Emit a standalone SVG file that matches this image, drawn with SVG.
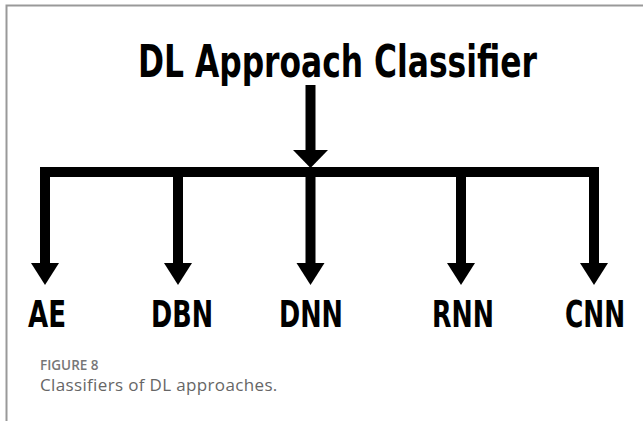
<svg xmlns="http://www.w3.org/2000/svg" width="643" height="421" viewBox="0 0 643 421">
<style>
.t{font-family:"DejaVu Sans",sans-serif;font-stretch:condensed;font-weight:bold;fill:#000;text-anchor:middle}
.ln{stroke:#000;stroke-width:10;fill:none}
.ah{fill:#000}
.cap{font-family:"Open Sans","Lato",sans-serif}
</style>
<rect width="643" height="421" fill="#fff"/>
<path d="M6.5,421 V5.5 H643" stroke="#999" stroke-width="2" fill="none"/>
<g id="title"><text class="t" x="337.5" y="77" font-size="44" textLength="399" lengthAdjust="spacingAndGlyphs">DL Approach Classifier</text></g>
<g id="connectors">
<path d="M310.5,85 V151" class="ln"/>
<path d="M293,150 H328 L310.5,168 Z" class="ah"/>
<path d="M45,265 V172 H594 V265" class="ln"/>
<path d="M178,172 V265" class="ln"/>
<path d="M310.5,172 V265" class="ln"/>
<path d="M461,172 V265" class="ln"/>
<path d="M31,263 H59 L45,285 Z" class="ah"/>
<path d="M164,263 H192 L178,285 Z" class="ah"/>
<path d="M296.5,263 H324.5 L310.5,285 Z" class="ah"/>
<path d="M447,263 H475 L461,285 Z" class="ah"/>
<path d="M580,263 H608 L594,285 Z" class="ah"/>
</g>
<g id="n-ae"><text class="t" x="47" y="327" font-size="37" textLength="38" lengthAdjust="spacingAndGlyphs">AE</text></g>
<g id="n-dbn"><text class="t" x="182" y="327" font-size="37" textLength="62" lengthAdjust="spacingAndGlyphs">DBN</text></g>
<g id="n-dnn"><text class="t" x="311" y="327" font-size="37" textLength="64" lengthAdjust="spacingAndGlyphs">DNN</text></g>
<g id="n-rnn"><text class="t" x="463" y="327" font-size="37" textLength="62" lengthAdjust="spacingAndGlyphs">RNN</text></g>
<g id="n-cnn"><text class="t" x="595" y="327" font-size="37" textLength="60" lengthAdjust="spacingAndGlyphs">CNN</text></g>
<g id="caption">
<text class="cap" x="40" y="370" font-size="13.5" font-weight="600" fill="#777">FIGURE 8</text>
<text class="cap" x="40" y="391" font-size="17" fill="#666" letter-spacing="0.35">Classifiers of DL approaches.</text>
</g>
</svg>
